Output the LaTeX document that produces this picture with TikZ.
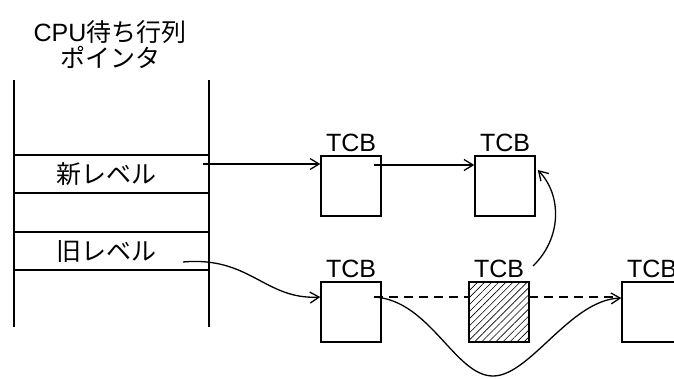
\documentclass[tikz,border=0pt]{standalone}
\usepackage{fontspec}
\setmainfont{Liberation Sans}
\newfontfamily\jp{Noto Sans CJK JP}
\usetikzlibrary{arrows.meta, positioning, calc, patterns.meta}
\tikzset{>={Straight Barb[length=9pt,width=11pt]}}

\begin{document}
\begin{tikzpicture}[x=1pt,y=-1pt,font=\fontsize{25}{26}\selectfont]

         %%%%%%%%%%%%%%%%%%%%%%%%%%%%%%%%%%%%%%%%%%%%%%%%%%%%%%%%%%%%%%%%%%%%%%
         % Parameter
         %%%%%%%%%%%%%%%%%%%%%%%%%%%%%%%%%%%%%%%%%%%%%%%%%%%%%%%%%%%%%%%%%%%%%%
         \def\colL{14}
         \def\colR{209}
         \def\colTop{80}
         \def\colBot{327}

         \tikzset{
            tcb/.style={
            draw, line width=1.5pt, minimum size=60pt, inner sep=0pt,
            label={[label distance=0pt]above:TCB}
            },
            link/.style={
            line width=1.3pt, ->
            }
         }

         \useasboundingbox (0,0) rectangle (674,378);
         \clip (0,0) rectangle (674,378);

         %%%%%%%%%%%%%%%%%%%%%%%%%%%%%%%%%%%%%%%%%%%%%%%%%%%%%%%%%%%%%%%%%%%%%%
         % Zeiger-Tabelle
         %%%%%%%%%%%%%%%%%%%%%%%%%%%%%%%%%%%%%%%%%%%%%%%%%%%%%%%%%%%%%%%%%%%%%%
         \node[align=center] (title) at (110,45) {CPU{\jp 待ち行列}\\{\jp ポインタ}};

         \draw[line width=1.5pt] (\colL,\colTop) -- (\colL,\colBot);
         \draw[line width=1.5pt] (\colR,\colTop) -- (\colR,\colBot);
         \foreach \y in {155,193,232,270}
            \draw[line width=1.5pt] (\colL,\y) -- (\colR,\y);

         \node (newlvl) at (106,174) {\jp 新レベル};
         \node (oldlvl) at (106,251) {\jp 旧レベル};

         \coordinate (NewOut) at (203,164);
         \coordinate (OldOut) at (183,262);

         %%%%%%%%%%%%%%%%%%%%%%%%%%%%%%%%%%%%%%%%%%%%%%%%%%%%%%%%%%%%%%%%%%%%%%
         % TCBs
         %%%%%%%%%%%%%%%%%%%%%%%%%%%%%%%%%%%%%%%%%%%%%%%%%%%%%%%%%%%%%%%%%%%%%%
         \node[tcb] (tcbA) at (351,186) {};
         \node[tcb] (tcbB) at (505,186) {};
         \node[tcb] (tcbC) at (351,312) {};
         \node[tcb, pattern={Lines[angle=45,distance=5pt,line width=0.6pt]}] (tcbD) at (499,312) {};
         \node[tcb] (tcbE) at (652,312) {};

         % neue Kette
         \draw[link] (NewOut) -- (tcbA.west |- NewOut);
         \draw[link] ($(tcbA.center)+(23,-21)$) -- ($(tcbB.west)+(0,-21)$);

         % alte Kette (gestrichelt)
         \draw[line width=1.3pt, dash pattern=on 9pt off 6pt]
         ($(tcbC.center)+(23,-15)$) -- ($(tcbD.west)+(0,-15)$);
         \draw[line width=1.3pt, dash pattern=on 9pt off 6pt]
         ($(tcbD.east)+(0,-15)$) -- ($(tcbE.west)+(-7,-15)$);

         % Umhaengen
         \draw[link] (OldOut) .. controls (250,256) and (265,300) .. ($(tcbC.west)+(0,-15)$);
         \draw[link] ($(tcbC.center)+(23,-15)$) .. controls (430,300) and (455,376) .. (493,376)
            .. controls (530,376) and (570,300) .. ($(tcbE.west)+(0,-14)$);
         \draw[link] (533,266) .. controls (562,238) and (562,195) .. ($(tcbB.east)+(2,-16)$);

\end{tikzpicture}
\end{document}
